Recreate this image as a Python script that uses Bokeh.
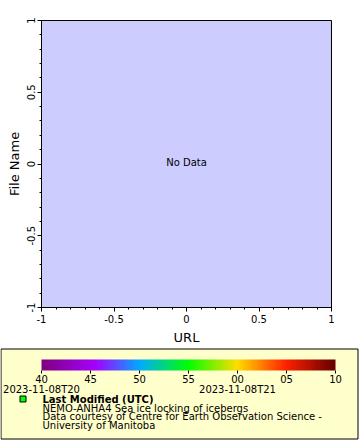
import numpy as np
from bokeh.plotting import figure
from bokeh.layouts import column, row
from bokeh.models import Range1d, SingleIntervalTicker, LinearColorMapper
from bokeh.core.properties import value
from bokeh.embed import file_html
from bokeh.resources import INLINE

# ---- data ----
x_axis_label = "URL"
y_axis_label = "File Name"
axis_ticks = [-1, -0.5, 0, 0.5, 1]
axis_tick_labels = ["-1", "-0.5", "0", "0.5", "1"]
message = "No Data"

cbar_ticks = [40, 45, 50, 55, 60, 65, 70]          # minutes after 20:00
cbar_tick_labels = ["40", "45", "50", "55", "00", "05", "10"]
date_ticks = [40, 60]
date_labels = ["2023-11-08T20", "2023-11-08T21"]
cbar_low, cbar_high = 40, 70
anchor_vals = [40, 45.5, 50, 55, 60, 65, 70]
anchor_cols = ["#800080", "#A500FF", "#00AAFF", "#00FF00", "#FFDD00", "#FF2000", "#660000"]

legend_title = "Last Modified (UTC)"
legend_lines = ["NEMO-ANHA4 Sea ice locking of icebergs",
                "Data courtesy of Centre for Earth Observation Science -",
                "University of Manitoba"]

FONT = "DejaVu Sans"


def hex2rgb(h):
    return np.array([int(h[i:i + 2], 16) for i in (1, 3, 5)], dtype=float)


vals = np.linspace(cbar_low, cbar_high, 256)
rgbs = np.array([hex2rgb(c) for c in anchor_cols])
palette = []
for v in vals:
    r = np.interp(v, anchor_vals, rgbs[:, 0])
    g = np.interp(v, anchor_vals, rgbs[:, 1])
    b = np.interp(v, anchor_vals, rgbs[:, 2])
    palette.append("#%02x%02x%02x" % (int(round(r)), int(round(g)), int(round(b))))

# ---- main plot ----
p = figure(width=360, height=347, output_backend="svg", toolbar_location=None,
           x_range=Range1d(-1, 1), y_range=Range1d(-1, 1),
           min_border_left=41, min_border_right=29, min_border_top=20, min_border_bottom=36)
p.background_fill_color = "#CCCCFF"
p.border_fill_color = "white"
p.outline_line_color = "black"
p.outline_line_width = 1
p.grid.visible = False
p.xaxis.axis_label = x_axis_label
p.yaxis.axis_label = y_axis_label
for ax in (p.xaxis[0], p.yaxis[0]):
    ax.ticker = SingleIntervalTicker(interval=0.5, num_minor_ticks=5)
    ax.major_label_overrides = {t: l for t, l in zip(axis_ticks, axis_tick_labels)}
    ax.major_tick_out = 4
    ax.major_tick_in = 0
    ax.minor_tick_out = 2
    ax.minor_tick_in = 0
    ax.major_tick_line_color = "black"
    ax.minor_tick_line_color = "black"
    ax.axis_line_color = "black"
    ax.major_label_text_font = FONT
    ax.major_label_text_font_size = "10px"
    ax.major_label_text_color = "black"
    ax.axis_label_text_font = FONT
    ax.axis_label_text_font_size = "13px"
    ax.axis_label_text_font_style = "normal"
    ax.axis_label_text_color = "black"
    ax.major_label_standoff = 3
    ax.axis_label_standoff = 4
p.yaxis.major_label_orientation = "vertical"
p.yaxis.axis_label_standoff = 2

p.text(x=[0], y=[0], text=[message], text_font=value(FONT), text_font_size="10px",
       text_align="center", text_baseline="alphabetic", text_color="black", y_offset=-2)

# ---- legend panel ----
px_per_min = 294 / 30.0
t0 = cbar_low - 41 / px_per_min
q = figure(width=360, height=93, output_backend="svg", toolbar_location=None,
           x_range=Range1d(0, 360), y_range=Range1d(0, 93),
           x_axis_type=None, y_axis_type=None, min_border=0)
q.extra_x_ranges = {"time": Range1d(t0, t0 + 360 / px_per_min)}
q.outline_line_color = None
q.grid.visible = False
q.background_fill_color = "white"
q.border_fill_color = "white"

q.quad(left=[0.5], right=[357.5], bottom=[1.5], top=[91.5],
       fill_color="#FFFFCC", line_color="black", line_width=1)

mapper = LinearColorMapper(palette=palette, low=cbar_low, high=cbar_high)
grad = np.linspace(cbar_low, cbar_high, 600)[None, :]
q.image(image=[grad], x=cbar_low, y=70, dw=cbar_high - cbar_low, dh=11,
        color_mapper=mapper, x_range_name="time")
q.segment(x0=cbar_ticks, x1=cbar_ticks, y0=[67] * len(cbar_ticks), y1=[70] * len(cbar_ticks),
          line_color="black", line_width=1, x_range_name="time")
q.text(x=cbar_ticks, y=[62] * len(cbar_ticks), text=cbar_tick_labels, x_range_name="time",
       text_font=value(FONT), text_font_size="10px", text_align="center",
       text_baseline="middle", text_color="black")
q.text(x=date_ticks, y=[51] * len(date_ticks), text=date_labels, x_range_name="time",
       text_font=value(FONT), text_font_size="10px", text_align="center",
       text_baseline="middle", text_color="black")

q.scatter(x=[22.5], y=[41.5], marker="square", size=6, fill_color="#00FF00",
          line_color="black", line_width=1)
q.text(x=[42], y=[41], text=[legend_title], text_font=value(FONT), text_font_size="10px",
       text_font_style="bold", text_baseline="middle", text_color="black")
q.text(x=[42] * 3, y=[32.3, 23.6, 14.9], text=legend_lines, text_font=value(FONT),
       text_font_size="10px", text_baseline="middle", text_color="black")

layout = column(row(p), row(q), spacing=0)
open("out.html", "w").write(file_html(layout, INLINE))
